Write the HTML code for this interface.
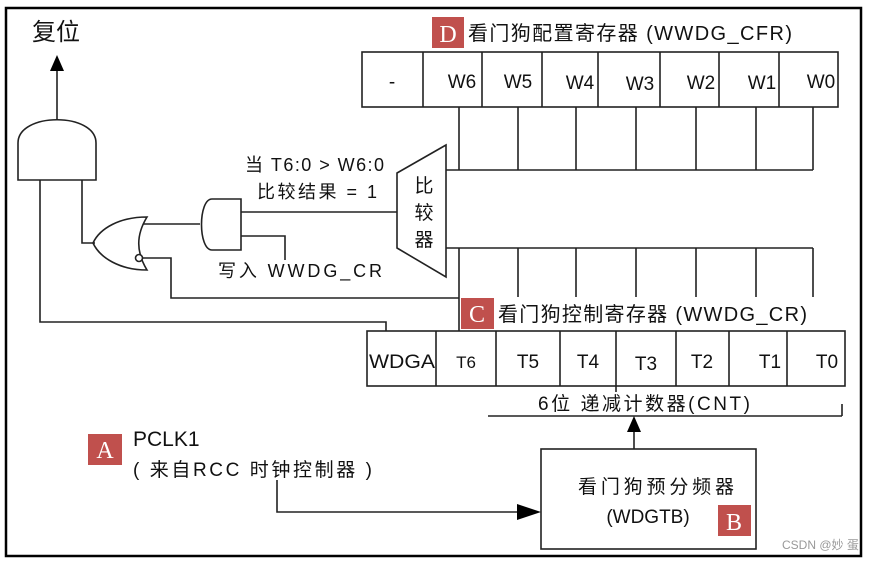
<!DOCTYPE html>
<html><head><meta charset="utf-8"><style>
html,body{margin:0;padding:0;background:#fff;}
svg{display:block;}
text{font-family:"Liberation Sans","Noto Sans CJK SC",sans-serif;fill:#111;}
.b{font-family:"Liberation Serif","Noto Serif CJK SC",serif;fill:#fff;font-size:24px;}
</style></head><body>
<svg width="885" height="561" viewBox="0 0 885 561" xmlns="http://www.w3.org/2000/svg">
<rect x="0" y="0" width="885" height="561" fill="#fff"/>
<rect x="6" y="8" width="855" height="548" fill="none" stroke="#000" stroke-width="2.5"/>
<g stroke="#222" stroke-width="1.6" fill="none">
<rect x="362" y="52" width="476" height="55"/>
<path d="M423 52V107M482 52V107M542 52V107M598 52V107M660 52V107M719 52V107M779 52V107"/>
<path d="M459 107V170M518 107V170M576 107V170M636 107V170M696 107V170M756 107V170M813 107V170M446 170H813"/>
<path d="M446 248H813M518 248V297M576 248V297M636 248V297M696 248V297M756 248V297M813 248V297M459 248V331"/>
<path d="M446 145L397 173V248L446 277Z"/>
<rect x="367" y="331" width="478" height="55"/>
<path d="M436 331V386M496 331V386M560 331V386M616 331V392M676 331V386M729 331V386M787 331V386"/>
<path d="M488 416H842M842 404V416"/>
<path d="M634 449V430"/>
<rect x="541" y="449" width="215" height="100"/>
<path d="M277 480V512H520"/>
<path d="M18 180V143C18 112 96 112 96 143V180Z"/>
<path d="M57 120V70"/>
<path d="M40 180V322H386V331"/>
<path d="M82 180V243H95"/>
<path d="M147 217C120 217 100 228 93 243C100 258 120 270 147 270C136 252 136 235 147 217Z"/>
<circle cx="139" cy="258" r="3.5" fill="#fff"/>
<path d="M143 224H200M143 258H171V298H459"/>
<path d="M241 199H212C198 199 198 250 212 250H241Z"/>
<path d="M241 212H397M241 236H285V260"/>
</g>
<path d="M57 55L50 71H64Z" fill="#000"/>
<path d="M634 416L627 432H641Z" fill="#000"/>
<path d="M541 512L517 504V520Z" fill="#000"/>
<text x="32" y="40" font-size="24">复位</text>
<rect x="432" y="17" width="32" height="31" fill="#c0504d"/><text class="b" x="448" y="42" text-anchor="middle">D</text>
<text x="468" y="40" font-size="20" textLength="324" lengthAdjust="spacing">看门狗配置寄存器 (WWDG_CFR)</text>
<g font-size="19" text-anchor="middle">
<text x="392" y="88">-</text><text x="462" y="88">W6</text><text x="518" y="88">W5</text><text x="580" y="89">W4</text><text x="640" y="90">W3</text><text x="701" y="89">W2</text><text x="762" y="89">W1</text><text x="821" y="88">W0</text>
</g>
<g font-size="19" text-anchor="middle">
<text x="424" y="192">比</text><text x="424" y="219">较</text><text x="424" y="246">器</text>
</g>
<text x="245" y="171" font-size="18" textLength="139" lengthAdjust="spacing">当 T6:0 &gt; W6:0</text>
<text x="257" y="198" font-size="18" textLength="120" lengthAdjust="spacing">比较结果 = 1</text>
<text x="218" y="277" font-size="18" textLength="164" lengthAdjust="spacing">写入 WWDG_CR</text>
<rect x="461" y="298" width="33" height="31" fill="#c0504d"/><text class="b" x="477" y="322" text-anchor="middle">C</text>
<text x="498" y="321" font-size="20" textLength="309" lengthAdjust="spacing">看门狗控制寄存器 (WWDG_CR)</text>
<g font-size="19" text-anchor="middle">
<text x="402" y="368" textLength="66" lengthAdjust="spacingAndGlyphs">WDGA</text><text x="466" y="368" font-size="17">T6</text><text x="528" y="368">T5</text><text x="588" y="368">T4</text><text x="646" y="370">T3</text><text x="702" y="368">T2</text><text x="770" y="368">T1</text><text x="827" y="368">T0</text>
</g>
<text x="538" y="410" font-size="19" textLength="212" lengthAdjust="spacing">6位 递减计数器(CNT)</text>
<text x="578" y="493" font-size="19" textLength="156" lengthAdjust="spacing">看门狗预分频器</text>
<text x="648" y="523" font-size="19" text-anchor="middle">(WDGTB)</text>
<rect x="718" y="505" width="33" height="31" fill="#c0504d"/><text class="b" x="734" y="530" text-anchor="middle">B</text>
<rect x="88" y="434" width="34" height="31" fill="#c0504d"/><text class="b" x="105" y="458" text-anchor="middle">A</text>
<text x="133" y="446" font-size="21">PCLK1</text>
<text x="133" y="476" font-size="19" textLength="239" lengthAdjust="spacing">( 来自RCC 时钟控制器 )</text>
<text x="782" y="549" font-size="12" style="fill:#999">CSDN @妙 蛋</text>
</svg>
</body></html>
